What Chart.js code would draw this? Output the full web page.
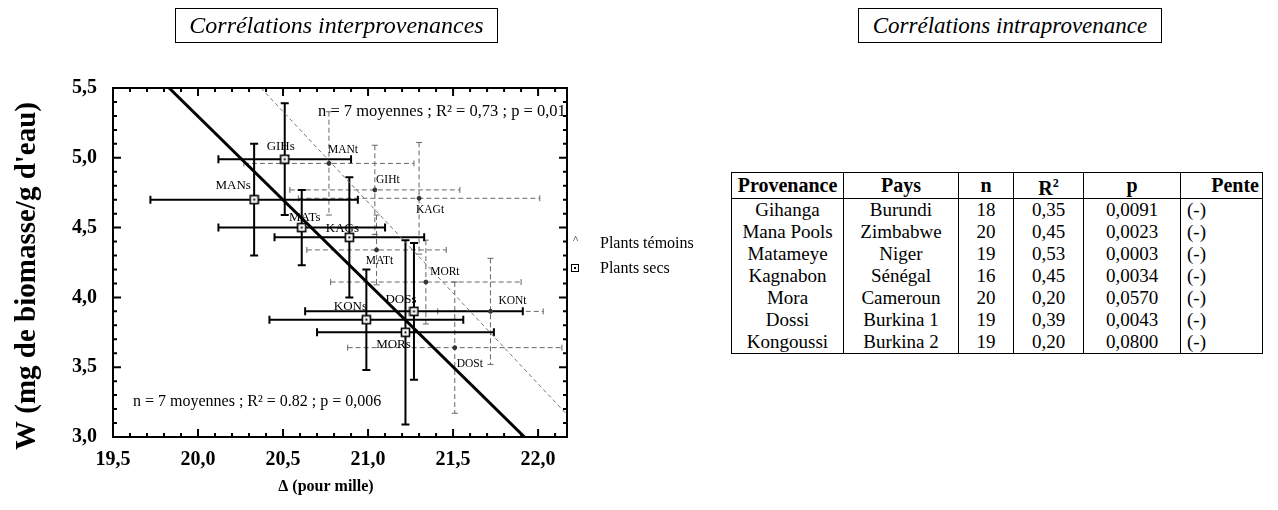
<!DOCTYPE html>
<html lang="fr">
<head>
<meta charset="UTF-8">
<title>Corrélations W / Delta</title>
<style>
  body { margin: 0; width: 1278px; height: 510px; background: #fff; position: relative; overflow: hidden;
         font-family: 'Liberation Serif', 'Times New Roman', serif; color: #000; }
  #chart { position: absolute; left: 0; top: 0; }
  .ttl { position: absolute; top: 8px; height: 33px; border: 1.5px solid #000; font-style: italic;
         font-size: 24px; line-height: 33px; text-align: center; }
  #t1 { left: 175px; width: 321px; }
  #t2 { left: 858px; width: 302px; font-size: 23px; }
  .leg { position: absolute; font-size: 16px; }
  #mk1 { position: absolute; left: 573px; top: 233px; font-size: 11px; }
  #mk2 { position: absolute; left: 571px; top: 264px; width: 6px; height: 6px; border: 1.5px solid #000; }
  #mk2::after { content: ''; position: absolute; left: 2px; top: 2px; width: 2px; height: 2px; background: #000; }
  table { position: absolute; left: 731px; top: 172px; border-collapse: collapse; border: 1.5px solid #000;
          font-size: 19px; }
  th, td { border-left: 1px solid #000; border-right: 1px solid #000; padding: 0; text-align: center; line-height: 20px; }
  th { font-size: 20px; font-weight: bold; height: 22px; border-bottom: 1.5px solid #000; }
  td { height: 22px; }
  th.pente { text-align: right; padding-right: 3px; }
  td.pente { text-align: left; padding-left: 6px; }
</style>
</head>
<body>
<canvas id="chart" width="720" height="510"></canvas>
<div id="t1" class="ttl">Corrélations interprovenances</div>
<div id="t2" class="ttl">Corrélations intraprovenance</div>
<span id="mk1">^</span>
<div class="leg" style="left:600px; top:234px;">Plants témoins</div>
<div id="mk2"></div>
<div class="leg" style="left:600px; top:259px;">Plants secs</div>
<table id="tab"></table>

<script src="https://cdn.jsdelivr.net/npm/chart.js"></script>
<script>
// axes
const xTickValues = [19.5, 20.0, 20.5, 21.0, 21.5, 22.0];
const xTickLabels = ['19,5', '20,0', '20,5', '21,0', '21,5', '22,0'];
const yTickValues = [3.0, 3.5, 4.0, 4.5, 5.0, 5.5];
const yTickLabels = ['3,0', '3,5', '4,0', '4,5', '5,0', '5,5'];
const xTitle = 'Δ (pour mille)';
const yTitle = "W (mg de biomasse/g d'eau)";

// plants secs (moyennes +/- ecart)
const dryLabels = ['GIHs', 'MANs', 'MATs', 'KAGs', 'KONs', 'DOSs', 'MORs'];
const dryX    = [20.51, 20.33, 20.61, 20.89, 20.99, 21.27, 21.22];
const dryY    = [4.99, 4.70, 4.50, 4.43, 3.84, 3.90, 3.75];
const dryXErr = [0.39, 0.61, 0.49, 0.44, 0.57, 0.64, 0.52];
const dryYErr = [0.40, 0.40, 0.27, 0.43, 0.36, 0.49, 0.66];

// plants temoins
const ctrlLabels = ['MANt', 'GIHt', 'KAGt', 'MATt', 'MORt', 'KONt', 'DOSt'];
const ctrlX    = [20.77, 21.04, 21.30, 21.05, 21.34, 21.72, 21.51];
const ctrlY    = [4.96, 4.77, 4.71, 4.34, 4.11, 3.90, 3.64];
const ctrlXErr = [0.50, 0.50, 0.71, 0.41, 0.56, 0.31, 0.63];
const ctrlYErr = [0.37, 0.32, 0.40, 0.25, 0.30, 0.38, 0.47];

// droites de regression (extremites)
const dryFitX = [19.83, 21.92];
const dryFitY = [5.5, 3.0];
const ctrlFitX = [20.37, 22.17];
const ctrlFitY = [5.5, 3.16];

const statsText = ['n = 7 moyennes ; R² = 0,73 ; p = 0,01', 'n = 7 moyennes ; R² = 0.82 ; p = 0,006'];

// tableau intraprovenance
const provenances = ['Gihanga', 'Mana Pools', 'Matameye', 'Kagnabon', 'Mora', 'Dossi', 'Kongoussi'];
const pays = ['Burundi', 'Zimbabwe', 'Niger', 'Sénégal', 'Cameroun', 'Burkina 1', 'Burkina 2'];
const nVals = ['18', '20', '19', '16', '20', '19', '19'];
const r2Vals = ['0,35', '0,45', '0,53', '0,45', '0,20', '0,39', '0,20'];
const pVals = ['0,0091', '0,0023', '0,0003', '0,0034', '0,0570', '0,0043', '0,0800'];
const pentes = ['(-)', '(-)', '(-)', '(-)', '(-)', '(-)', '(-)'];

// label offsets in px (style only)
const dryLabelOff = [[-4, -13], [-21, -14], [3, -10], [-7, -9], [-16, -13], [-13, -12], [-12, 12]];
const ctrlLabelOff = [[14, -13], [13, -10], [11, 12], [3, 11], [19, -10], [22, -10], [15, 16]];

const SERIF = "'Liberation Serif', 'Times New Roman', serif";

// table
const tab = document.getElementById('tab');
const colW = [111, 114, 54, 69, 96, 81];
const heads = ['Provenance', 'Pays', 'n', 'R<sup style="font-size:12px">2</sup>', 'p', 'Pente'];
let html = '<tr>' + heads.map((h, i) =>
  `<th${i === 5 ? ' class="pente"' : ''} style="width:${colW[i] - (i === 5 ? 3 : 0)}px">${h}</th>`).join('') + '</tr>';
for (let i = 0; i < provenances.length; i++) {
  html += `<tr><td>${provenances[i]}</td><td>${pays[i]}</td><td>${nVals[i]}</td><td>${r2Vals[i]}</td><td>${pVals[i]}</td><td class="pente">${pentes[i]}</td></tr>`;
}
tab.innerHTML = html;

function squareMarker() {
  const c = document.createElement('canvas');
  c.width = 11; c.height = 11;
  const g = c.getContext('2d');
  g.fillStyle = '#fff'; g.fillRect(1, 1, 9, 9);
  g.strokeStyle = '#000'; g.lineWidth = 1.6; g.strokeRect(1.5, 1.5, 8, 8);
  g.fillStyle = '#000'; g.fillRect(4.5, 4.5, 2, 2);
  return c;
}

function drawBars(ctx, xs, ys, X, Y, XE, YE, st) {
  ctx.strokeStyle = st.color;
  ctx.lineWidth = st.width;
  ctx.setLineDash(st.dash);
  for (let i = 0; i < X.length; i++) {
    const px = xs.getPixelForValue(X[i]), py = ys.getPixelForValue(Y[i]);
    const x0 = xs.getPixelForValue(X[i] - XE[i]), x1 = xs.getPixelForValue(X[i] + XE[i]);
    const y0 = ys.getPixelForValue(Y[i] + YE[i]), y1 = ys.getPixelForValue(Y[i] - YE[i]);
    ctx.beginPath();
    ctx.moveTo(x0, py); ctx.lineTo(x1, py);
    ctx.moveTo(px, y0); ctx.lineTo(px, y1);
    ctx.stroke();
    ctx.setLineDash([]);
    ctx.beginPath();
    ctx.moveTo(x0, py - st.cap); ctx.lineTo(x0, py + st.cap);
    ctx.moveTo(x1, py - st.cap); ctx.lineTo(x1, py + st.cap);
    ctx.moveTo(px - st.cap, y0); ctx.lineTo(px + st.cap, y0);
    ctx.moveTo(px - st.cap, y1); ctx.lineTo(px + st.cap, y1);
    ctx.stroke();
    ctx.setLineDash(st.dash);
  }
  ctx.setLineDash([]);
}

const errorBars = {
  id: 'errorBars',
  beforeDatasetsDraw(chart) {
    const { ctx, chartArea: a, scales: { x, y } } = chart;
    ctx.save();
    ctx.beginPath(); ctx.rect(a.left, a.top, a.width, a.height); ctx.clip();
    drawBars(ctx, x, y, ctrlX, ctrlY, ctrlXErr, ctrlYErr, { color: '#666', width: 1, dash: [5, 3], cap: 3 });
    drawBars(ctx, x, y, dryX, dryY, dryXErr, dryYErr, { color: '#000', width: 2, dash: [], cap: 4 });
    ctx.restore();
  }
};

const decor = {
  id: 'decor',
  afterDatasetsDraw(chart) {
    const { ctx, chartArea: a, scales: { x, y } } = chart;
    ctx.save();
    ctx.fillStyle = '#000';
    ctx.textAlign = 'center';
    ctx.textBaseline = 'middle';
    ctx.font = '13px ' + SERIF;
    dryLabels.forEach((t, i) => {
      ctx.fillText(t, x.getPixelForValue(dryX[i]) + dryLabelOff[i][0], y.getPixelForValue(dryY[i]) + dryLabelOff[i][1]);
    });
    ctx.font = '11.5px ' + SERIF;
    ctrlLabels.forEach((t, i) => {
      ctx.fillText(t, x.getPixelForValue(ctrlX[i]) + ctrlLabelOff[i][0], y.getPixelForValue(ctrlY[i]) + ctrlLabelOff[i][1]);
    });
    ctx.font = '16.5px ' + SERIF;
    ctx.textAlign = 'left';
    ctx.fillText(statsText[0], a.left + 205, a.top + 24);
    ctx.font = '16px ' + SERIF;
    ctx.fillText(statsText[1], a.left + 20, a.bottom - 35);
    ctx.restore();
  },
  afterDraw(chart) {
    const { ctx, chartArea: a, scales: { x, y } } = chart;
    ctx.save();
    ctx.strokeStyle = '#000';
    ctx.lineWidth = 2;
    ctx.strokeRect(a.left, a.top, a.width, a.height);
    ctx.beginPath();
    for (let k = 0; ; k++) {
      const v = x.min + k * 0.1;
      if (v > x.max + 1e-6) break;
      const major = Math.abs(v * 2 - Math.round(v * 2)) < 1e-6;
      const L = major ? 8 : 4, px = x.getPixelForValue(v);
      ctx.moveTo(px, a.bottom); ctx.lineTo(px, a.bottom - L);
      ctx.moveTo(px, a.top); ctx.lineTo(px, a.top + L);
    }
    for (let k = 0; ; k++) {
      const v = y.min + k * 0.1;
      if (v > y.max + 1e-6) break;
      const major = Math.abs(v * 2 - Math.round(v * 2)) < 1e-6;
      const L = major ? 8 : 4, py = y.getPixelForValue(v);
      ctx.moveTo(a.left, py); ctx.lineTo(a.left + L, py);
      ctx.moveTo(a.right, py); ctx.lineTo(a.right - L, py);
    }
    ctx.stroke();
    // axis titles
    ctx.fillStyle = '#000';
    ctx.textAlign = 'center';
    ctx.textBaseline = 'middle';
    ctx.font = 'bold 16px ' + SERIF;
    ctx.fillText(xTitle, 326, 487);
    ctx.translate(28, 276);
    ctx.rotate(-Math.PI / 2);
    ctx.font = 'bold 29px ' + SERIF;
    ctx.fillText(yTitle, 0, 0);
    ctx.restore();
  }
};

const tickFont = { family: SERIF, size: 20, weight: 'bold' };

new Chart(document.getElementById('chart'), {
  type: 'scatter',
  data: {
    datasets: [
      {
        label: 'Plants secs',
        data: dryX.map((v, i) => ({ x: v, y: dryY[i] })),
        pointStyle: squareMarker(),
        order: 0
      },
      {
        label: 'Plants témoins',
        data: ctrlX.map((v, i) => ({ x: v, y: ctrlY[i] })),
        pointStyle: 'circle',
        pointRadius: 2,
        backgroundColor: '#333',
        borderColor: '#333',
        order: 1
      },
      {
        type: 'line',
        label: 'fit secs',
        data: dryFitX.map((v, i) => ({ x: v, y: dryFitY[i] })),
        borderColor: '#000',
        borderWidth: 3,
        pointRadius: 0,
        order: 2
      },
      {
        type: 'line',
        label: 'fit témoins',
        data: ctrlFitX.map((v, i) => ({ x: v, y: ctrlFitY[i] })),
        borderColor: '#777',
        borderWidth: 1,
        borderDash: [4, 3],
        pointRadius: 0,
        order: 3
      }
    ]
  },
  options: {
    responsive: false,
    animation: false,
    devicePixelRatio: 1,
    layout: { padding: { left: 0, top: 88, right: 153, bottom: 0 } },
    plugins: { legend: { display: false }, tooltip: { enabled: false } },
    scales: {
      x: {
        type: 'linear', position: 'bottom', min: 19.5, max: 22.17,
        afterFit: s => { s.height = 73; },
        afterBuildTicks: s => { s.ticks = xTickValues.map(v => ({ value: v })); },
        grid: { display: false, drawTicks: false },
        border: { display: false },
        ticks: {
          padding: 11, color: '#000', font: tickFont, maxRotation: 0,
          callback: (v, i) => xTickLabels[i]
        }
      },
      y: {
        type: 'linear', min: 3, max: 5.5,
        afterFit: s => { s.width = 113; },
        afterBuildTicks: s => { s.ticks = yTickValues.map(v => ({ value: v })); },
        grid: { display: false, drawTicks: false },
        border: { display: false },
        ticks: {
          padding: 16, color: '#000', font: tickFont,
          callback: (v, i) => yTickLabels[i]
        }
      }
    }
  },
  plugins: [errorBars, decor]
});
</script>
</body>
</html>
